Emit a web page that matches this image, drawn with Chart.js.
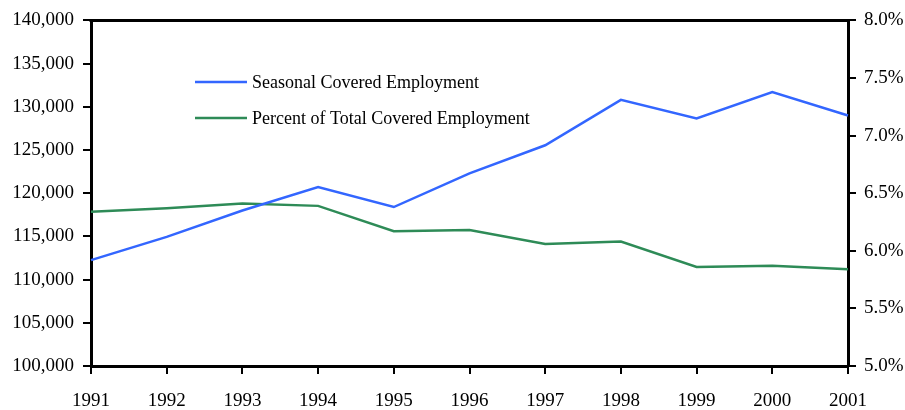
<!DOCTYPE html>
<html>
<head>
<meta charset="utf-8">
<script src="https://cdn.jsdelivr.net/npm/chart.js@4/dist/chart.umd.min.js"></script>
<style>
  html, body { margin: 0; padding: 0; background: #fff; }
  #wrap { width: 905px; height: 410px; position: relative; }
</style>
</head>
<body>
<div id="wrap"><canvas id="employmentChart"></canvas></div>
<script>
const years = ['1991', '1992', '1993', '1994', '1995', '1996', '1997', '1998', '1999', '2000', '2001'];
const seasonalEmployment = [112250, 114950, 118000, 120700, 118400, 122300, 125550, 130800, 128650, 131700, 129000];
const percentOfTotal = [6.34, 6.37, 6.41, 6.39, 6.17, 6.18, 6.06, 6.08, 5.86, 5.87, 5.84];

const FONT = "'Liberation Serif', 'Times New Roman', serif";
const BLUE = 'rgb(51, 102, 255)';
const GREEN = 'rgb(46, 139, 87)';

// top frame line plus the in-plot legend
const framePlugin = {
    id: 'frame',
    afterDraw(chart) {
        const ctx = chart.ctx;
        const area = chart.chartArea;
        ctx.save();
        ctx.strokeStyle = '#000';
        ctx.lineWidth = 3;
        ctx.beginPath();
        ctx.moveTo(area.left - 1.5, area.top);
        ctx.lineTo(area.right + 1.5, area.top);
        ctx.stroke();

        ctx.font = '18px ' + FONT;
        ctx.textBaseline = 'middle';
        ctx.fillStyle = '#000';
        chart.data.datasets.forEach((ds, i) => {
            const y = 82 + i * 36;
            ctx.strokeStyle = ds.borderColor;
            ctx.lineWidth = 2.5;
            ctx.beginPath();
            ctx.moveTo(195, y);
            ctx.lineTo(247, y);
            ctx.stroke();
            ctx.fillText(ds.label, 252, y + 1);
        });
        ctx.restore();
    }
};

const ctx = document.getElementById('employmentChart').getContext('2d');
new Chart(ctx, {
    type: 'line',
    data: {
        labels: years,
        datasets: [
            {
                label: 'Seasonal Covered Employment',
                data: seasonalEmployment,
                borderColor: BLUE,
                borderWidth: 2.5,
                pointRadius: 0,
                tension: 0,
                yAxisID: 'y'
            },
            {
                label: 'Percent of Total Covered Employment',
                data: percentOfTotal,
                borderColor: GREEN,
                borderWidth: 2.5,
                pointRadius: 0,
                tension: 0,
                yAxisID: 'y1'
            }
        ]
    },
    plugins: [framePlugin],
    options: {
        responsive: true,
        maintainAspectRatio: false,
        animation: false,
        layout: { padding: { top: 20, left: 0, right: 0, bottom: 0 } },
        plugins: {
            legend: { display: false },
            tooltip: { enabled: false }
        },
        scales: {
            x: {
                offset: false,
                border: { color: '#000', width: 3 },
                grid: { drawOnChartArea: false, drawTicks: true, tickLength: 8, color: '#000', lineWidth: 2 },
                ticks: {
                    autoSkip: false,
                    maxRotation: 0,
                    padding: 16,
                    color: '#000',
                    font: { family: FONT, size: 19 }
                },
                afterFit(scale) { scale.height = 44; }
            },
            y: {
                position: 'left',
                min: 100000,
                max: 140000,
                border: { color: '#000', width: 3 },
                grid: { drawOnChartArea: false, drawTicks: true, tickLength: 8, color: '#000', lineWidth: 2 },
                ticks: {
                    stepSize: 5000,
                    padding: 9,
                    color: '#000',
                    font: { family: FONT, size: 19 },
                    callback: v => v.toLocaleString('en-US')
                },
                afterFit(scale) { scale.width = 91; }
            },
            y1: {
                position: 'right',
                min: 5,
                max: 8,
                border: { color: '#000', width: 3 },
                grid: { drawOnChartArea: false, drawTicks: true, tickLength: 8, color: '#000', lineWidth: 2 },
                ticks: {
                    stepSize: 0.5,
                    padding: 8,
                    color: '#000',
                    font: { family: FONT, size: 19 },
                    callback: v => v.toFixed(1) + '%'
                },
                afterFit(scale) { scale.width = 57; }
            }
        }
    }
});
</script>
</body>
</html>
